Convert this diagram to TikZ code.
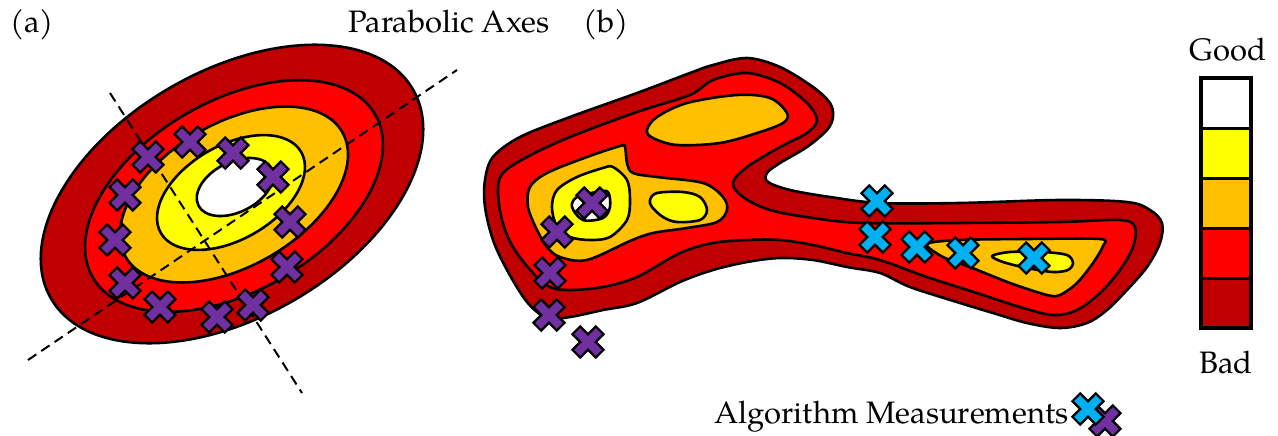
\documentclass[tikz,border=0pt]{standalone}
\usepackage{fontspec}
\setmainfont{TeX Gyre Pagella}
\definecolor{dred}{HTML}{C00000}
\definecolor{cred}{HTML}{FF0000}
\definecolor{corange}{HTML}{FFC000}
\definecolor{cyellow}{HTML}{FFFF00}
\definecolor{mpurple}{HTML}{7030A0}
\definecolor{mblue}{HTML}{00B0F0}
\tikzset{
  contour/.style={draw=black, line width=2.6pt, line join=round},
  axisline/.style={draw=black, line width=2pt, dash pattern=on 10pt off 6pt},
  lbl/.style={font=\fontsize{31}{37}\selectfont, inner sep=0pt},
  cell/.style={draw=black, line width=3pt},
  meas/.pic={\path[pic actions, draw=black, line width=2.2pt, line join=miter, rotate=45]
     (-16.5,-5.5) -- (-5.5,-5.5) -- (-5.5,-16.5) -- (5.5,-16.5) -- (5.5,-5.5) -- (16.5,-5.5) -- (16.5,5.5)
     -- (5.5,5.5) -- (5.5,16.5) -- (-5.5,16.5) -- (-5.5,5.5) -- (-16.5,5.5) -- cycle;}
}
\begin{document}
\begin{tikzpicture}[x=1pt,y=-1pt]
\useasboundingbox (0,0) rectangle (1278,436);

% ---------- (a) elliptic contours ----------
\path[contour, fill=dred, shift={(232,194)}, rotate=30] (0,0) ellipse [x radius=209pt, y radius=123pt];
\path[contour, fill=cred, shift={(234,196)}, rotate=30] (0,0) ellipse [x radius=163pt, y radius=95pt];
\path[contour, fill=corange, shift={(234,194.5)}, rotate=30] (0,0) ellipse [x radius=125pt, y radius=71.5pt];
\path[contour, fill=cyellow, shift={(231,192.5)}, rotate=30] (0,0) ellipse [x radius=81pt, y radius=47pt];
\path[contour, fill=white, shift={(235,187)}, rotate=27] (0,0) ellipse [x radius=41pt, y radius=25pt];

\coordinate (majA) at (28,360);
\coordinate (majB) at (457,70);
\coordinate (minA) at (110,93);
\coordinate (minB) at (302,393);
\draw[axisline] (majA) -- (majB);
\draw[axisline] (minA) -- (minB);

\foreach \p in {(148,157),(190,142),(233,153),(273,177),(125,195),(290,222),
                (115,240),(287,267),(125,283),(160,307),(217,317),(253,305)}
  \pic[fill=mpurple] at \p {meas};

% ---------- (b) irregular landscape ----------
\draw[contour, fill=dred] plot[smooth cycle, tension=0.55] coordinates {
 (485,180) (493,157) (520,137) (570,117) (637,93) (690,73) (713,65) (747,58) (780,67)
 (813,87) (830,103) (833,117) (827,130) (807,147) (780,163) (767,173) (768,182) (790,190)
 (830,197) (880,203) (960,203) (1060,200) (1127,202) (1150,210) (1162,223) (1160,243)
 (1147,267) (1127,290) (1107,310) (1087,323) (1060,328) (1027,323) (993,313) (960,303)
 (910,287) (880,273) (847,267) (813,260) (780,258) (747,262) (713,270) (680,282) (637,303)
 (603,310) (570,317) (547,318) (527,302) (507,270) (493,240) (485,207)};
\draw[contour, fill=cred] plot[smooth cycle, tension=0.55] coordinates {
 (498,190) (503,173) (527,157) (570,137) (637,112) (690,95) (713,80) (747,73) (780,83)
 (807,103) (817,120) (807,133) (780,147) (747,167) (733,183) (743,197) (770,210) (813,218)
 (863,223) (960,223) (1060,222) (1120,220) (1135,227) (1133,247) (1120,270) (1100,293)
 (1077,310) (1053,315) (1020,307) (977,293) (927,277) (880,260) (847,253) (813,245)
 (780,240) (747,240) (713,243) (680,253) (637,277) (603,287) (570,290) (550,287)
 (533,273) (513,247) (502,220)};
% orange regions
\draw[contour, fill=corange] plot[smooth cycle, tension=0.55] coordinates {
 (625,147) (627,163) (633,173) (657,177) (703,183) (723,197) (727,210) (717,222) (687,228)
 (653,233) (630,241) (587,260) (560,257) (547,247) (537,230) (528,207) (530,187) (547,173)
 (587,157) (620,146)};
\draw[contour, fill=corange] plot[smooth cycle, tension=0.55] coordinates {
 (647,130) (657,117) (687,103) (737,95) (770,98) (787,113) (783,123) (757,133) (720,143)
 (677,145) (653,138)};
\draw[contour, fill=corange] plot[smooth cycle, tension=0.5] coordinates {
 (927,244) (960,240) (1027,239) (1100,239) (1103,246) (1093,263) (1077,283) (1060,295)
 (1047,295) (1010,283) (970,267) (943,257)};
% yellow regions
\draw[contour, fill=cyellow] plot[smooth cycle, tension=0.55] coordinates {
 (613,167) (627,180) (630,200) (627,220) (610,237) (590,240) (570,237) (557,227) (552,207)
 (557,190) (577,177) (603,168)};
\draw[contour, fill=cyellow] plot[smooth cycle, tension=0.55] coordinates {
 (650,200) (657,193) (683,192) (700,197) (707,210) (700,220) (677,222) (663,217) (652,207)};
\draw[contour, fill=cyellow] plot[smooth cycle, tension=0.5] coordinates {
 (992,256) (1010,252) (1043,252) (1067,255) (1073,263) (1068,270) (1053,272) (1027,268)
 (1003,262)};
% white hole
\draw[contour, fill=white] plot[smooth cycle, tension=0.55] coordinates {
 (577,197) (597,192) (608,192) (610,207) (603,218) (583,220) (572,207)};

\foreach \p in {(592,203),(557,232),(550,273),(549,315),(588,342)}
  \pic[fill=mpurple] at \p {meas};
\foreach \p in {(877,201),(875,237),(917,247),(963,253),(1034,258)}
  \pic[fill=mblue] at \p {meas};

% ---------- legend bar ----------
\path[cell, fill=dred] (1201,278) rectangle (1251,328);
\path[cell, fill=cred] (1201,228) rectangle (1251,278);
\path[cell, fill=corange] (1201,178) rectangle (1251,228);
\path[cell, fill=cyellow] (1201,128) rectangle (1251,178);
\path[cell, fill=white] (1201,78) rectangle (1251,128);
\draw[line width=4.5pt] (1201,78) rectangle (1251,328);

% ---------- labels ----------
\node[lbl, anchor=base west] (la) at (10,33) {(a)};
\node[lbl, anchor=base west] (lpar) at (348,33) {Parabolic Axes};
\node[lbl, anchor=base west] (lb) at (583,33) {(b)};
\node[lbl, anchor=base] (lgood) at (1228,61) {Good};
\node[lbl, anchor=base] (lbad) at (1226,373) {Bad};
\node[lbl, anchor=base west] (lalg) at (714,423) {Algorithm Measurements};

\pic[fill=mpurple] at (1105,421) {meas};
\pic[fill=mblue] at (1088,409) {meas};
\end{tikzpicture}
\end{document}
